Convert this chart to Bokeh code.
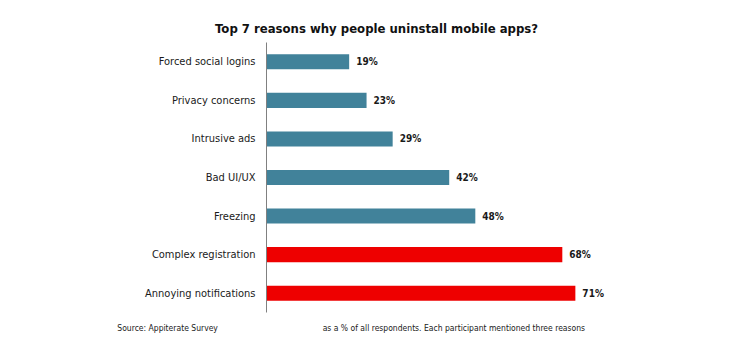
from bokeh.plotting import figure
from bokeh.models import Range1d
from bokeh.core.properties import value
from bokeh.embed import file_html
from bokeh.resources import INLINE

reasons = ["Annoying notifications", "Complex registration", "Freezing", "Bad UI/UX",
           "Intrusive ads", "Privacy concerns", "Forced social logins"]
percents = [71, 68, 48, 42, 29, 23, 19]
colors = ["#EE0000", "#EE0000", "#41829A", "#41829A", "#41829A", "#41829A", "#41829A"]
pct_labels = [f"{v}%" for v in percents]
title_text = "Top 7 reasons why people uninstall mobile apps?"
source_text = "Source: Appiterate Survey"
note_text = "as a % of all respondents. Each participant  mentioned three reasons"

FONT = "DejaVu Sans Condensed"

n = len(reasons)
ypos = [i + 0.5 for i in range(n)]

p = figure(width=748, height=355, x_range=Range1d(-61.15, 110.8), y_range=Range1d(-1.115, 8.089),
           output_backend="svg", toolbar_location=None,
           min_border_left=0, min_border_right=0, min_border_top=0, min_border_bottom=0)
p.axis.visible = False
p.grid.visible = False
p.outline_line_color = None

p.hbar(y=ypos, right=percents, left=0, height=0.39, color=colors, line_color=None)
# category axis line
p.segment(x0=[0], y0=[0], x1=[0], y1=[n], line_color="#808080", line_width=1)
# category labels
p.text(x=[0] * n, y=ypos, text=reasons, x_offset=-11, text_align="right",
       text_baseline="middle", text_font=value(FONT), text_font_size="11px", text_color="#1a1a1a")
# value labels
p.text(x=percents, y=ypos, text=pct_labels, x_offset=7, text_align="left",
       text_baseline="middle", text_font=value(FONT), text_font_style="bold",
       text_font_size="10px", text_color="#1a1a1a")
# title and footers
p.text(x=[25.3], y=[7.36], text=[title_text], text_align="center", text_baseline="middle",
       text_font=value(FONT), text_font_style="bold", text_font_size="13px", text_color="#111111")
p.text(x=[-34.3], y=[-0.39], text=[source_text], text_align="left", text_baseline="middle",
       text_font=value(FONT), text_font_size="8.5px", text_color="#1a1a1a")
p.text(x=[12.9], y=[-0.39], text=[note_text], text_align="left", text_baseline="middle",
       text_font=value(FONT), text_font_size="8.5px", text_color="#1a1a1a")

open("out.html", "w").write(file_html(p, INLINE))
